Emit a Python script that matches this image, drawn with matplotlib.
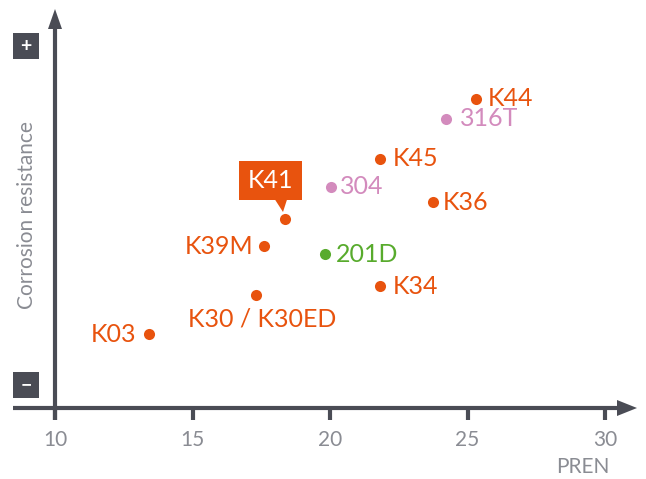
import matplotlib
matplotlib.use("Agg")
import matplotlib.pyplot as plt
from matplotlib.patches import Rectangle, Polygon

plt.rcParams['font.family'] = ['Lato', 'DejaVu Sans']

# Data
names = ["K44", "316T", "K45", "304", "K36", "K41", "K39M", "201D", "K34", "K30 / K30ED", "K03"]
pren = [25.3, 24.2, 21.8, 20.05, 23.75, 18.35, 17.6, 19.8, 21.8, 17.3, 13.4]
resist = [7.73, 7.23, 6.23, 5.53, 5.15, 4.73, 4.05, 3.85, 3.05, 2.83, 1.85]
groups = ["ferritic", "austenitic", "ferritic", "austenitic", "ferritic", "ferritic",
          "ferritic", "duplex", "ferritic", "ferritic", "ferritic"]
xticks = [10, 15, 20, 25, 30]

colors = {"ferritic": "#e8530e", "austenitic": "#d38bbd", "duplex": "#58ab2d"}
gray = "#4a4c55"
textgray = "#8a8c93"

W, H = 646, 479
fig = plt.figure(figsize=(W / 100, H / 100), dpi=100)
ax = fig.add_axes([0, 0, 1, 1])
# pixel mapping: x=10 -> px 55, 27.5 px/unit ; y=0 -> px 408, 40 px/unit
xpx, ypx = 27.5, 40.0
ax.set_xlim(10 - 55 / xpx, 10 + (W - 55) / xpx)
ax.set_ylim(-(H - 408) / ypx, 408 / ypx)
ax.axis("off")

def X(px):
    return 10 + (px - 55) / xpx

def Y(py):
    return (408 - py) / ypx

# axes lines
ax.plot([X(13), X(624)], [0, 0], color=gray, lw=3, solid_capstyle="butt", zorder=2)
ax.plot([10, 10], [Y(420), Y(26)], color=gray, lw=3, solid_capstyle="butt", zorder=2)
# arrow heads
ax.add_patch(Polygon([[X(637), 0], [X(617), Y(400)], [X(617), Y(416)]], closed=True,
                     color=gray, lw=0, zorder=3))
ax.add_patch(Polygon([[10, Y(9)], [X(48), Y(29)], [X(62), Y(29)]], closed=True,
                     color=gray, lw=0, zorder=3))
# ticks
for t in xticks:
    ax.plot([t, t], [0, Y(420)], color=gray, lw=3, solid_capstyle="butt", zorder=2)
    ax.text(t, Y(440), str(t), ha="center", va="center", fontsize=15,
            color=textgray)

ax.text(X(609), Y(467), "PREN", ha="right", va="center", fontsize=15,
        color=textgray)
ax.text(X(27), Y(215), "Corrosion resistance", ha="center", va="center", rotation=90,
        fontsize=15, color=textgray)

# plus / minus boxes
for cy, sign in [(46, "+"), (385, "\u2212")]:
    ax.add_patch(Rectangle((X(13), Y(cy + 13)), 26 / xpx, 26 / ypx, color=gray, lw=0, zorder=3))
    ax.text(X(26), Y(cy), sign, ha="center", va="center", color="white",
            fontsize=14, fontweight="bold", zorder=4)

# points
for n, x, y, g in zip(names, pren, resist, groups):
    ax.plot(x, y, "o", ms=8, color=colors[g], mec="none", zorder=5)

# label offsets in pixels: (dx, dy, ha)
offsets = {
    "K44": (12, 0, "left"), "316T": (14, 0, "left"), "K45": (13, 0, "left"),
    "304": (9, 0, "left"), "K36": (10, 0, "left"), "K39M": (-11, 0, "right"),
    "201D": (11, 0, "left"), "K34": (13, 0, "left"), "K30 / K30ED": (6, 24, "center"),
    "K03": (-12, 0, "right"),
}
for n, x, y, g in zip(names, pren, resist, groups):
    if n == "K41":
        continue
    dx, dy, ha = offsets[n]
    ax.text(x + dx / xpx, y - dy / ypx, n, ha=ha, va="center", fontsize=18,
            color=colors[g], zorder=6)

# K41 callout
i = names.index("K41")
bx0, bx1, by0, by1 = X(239), X(302), Y(200), Y(161)
ax.add_patch(Rectangle((bx0, by0), bx1 - bx0, by1 - by0, color=colors["ferritic"], lw=0, zorder=6))
ax.add_patch(Polygon([[X(275), by0 + 0.01], [X(287), by0 + 0.01], [X(283), Y(212)]],
                     closed=True, color=colors["ferritic"], lw=0, zorder=6))
ax.text((bx0 + bx1) / 2, (by0 + by1) / 2, "K41", ha="center", va="center",
        fontsize=18, color="white", zorder=7)

fig.savefig("out.png", dpi=100)
